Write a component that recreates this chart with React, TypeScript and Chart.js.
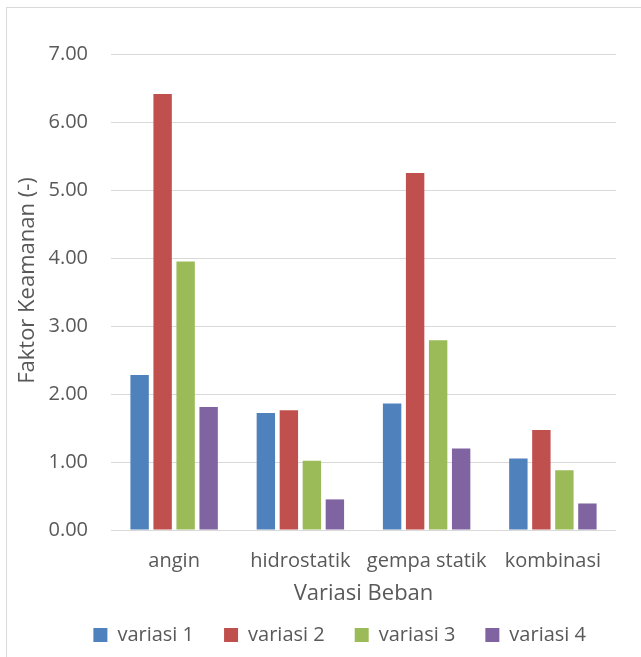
import React, { useEffect, useRef } from "react";
import { Chart, registerables } from "chart.js";

Chart.register(...registerables);

const categories = ["angin", "hidrostatik", "gempa statik", "kombinasi"];
const seriesNames = ["variasi 1", "variasi 2", "variasi 3", "variasi 4"];
const variasi1 = [2.28, 1.72, 1.86, 1.05];
const variasi2 = [6.41, 1.76, 5.25, 1.47];
const variasi3 = [3.95, 1.02, 2.79, 0.88];
const variasi4 = [1.81, 0.45, 1.2, 0.39];
const seriesColors = ["#4f81bd", "#c0504d", "#9bbb59", "#8064a2"];
const yTicksMax = 7;
const yTitle = "    Faktor Keamanan (-)";
const xTitle = "Variasi Beban";

const FONT = "'Open Sans', 'Noto Sans', sans-serif";
const TEXT = "#595959";

export default function App() {
  const ref = useRef<HTMLCanvasElement>(null);

  useEffect(() => {
    if (!ref.current) return;
    const values = [variasi1, variasi2, variasi3, variasi4];
    const chart = new Chart(ref.current, {
      type: "bar",
      data: {
        labels: categories,
        datasets: seriesNames.map((name, i) => ({
          label: name,
          data: values[i],
          backgroundColor: seriesColors[i],
          borderWidth: 0,
          categoryPercentage: 0.729,
          barPercentage: 0.8,
        })),
      },
      options: {
        responsive: false,
        animation: false,
        layout: { padding: { top: 54, right: 25, bottom: 2, left: 0 } },
        plugins: {
          tooltip: { enabled: false },
          legend: {
            position: "bottom",
            align: "end",
            labels: {
              boxWidth: 14,
              boxHeight: 14,
              padding: 30,
              color: TEXT,
              font: { family: FONT, size: 20 },
            },
          },
        },
        scales: {
          x: {
            grid: { display: false, drawTicks: false },
            border: { display: false },
            ticks: { color: TEXT, font: { family: FONT, size: 20 }, padding: 19, maxRotation: 0 },
            title: {
              display: true,
              text: xTitle,
              color: TEXT,
              font: { family: FONT, size: 22 },
              padding: { top: 0, bottom: -12 },
            },
            afterFit: (s: any) => {
              s.height = 65;
            },
          },
          y: {
            min: 0,
            max: yTicksMax,
            grid: { color: "#d9d9d9", lineWidth: 1, drawTicks: false },
            border: { display: false },
            ticks: {
              stepSize: 1,
              color: TEXT,
              font: { family: FONT, size: 20 },
              padding: 23,
              callback: (v: any) => Number(v).toFixed(2),
            },
            title: {
              display: true,
              text: yTitle,
              color: TEXT,
              font: { family: FONT, size: 22 },
              padding: { top: 15, bottom: 0 },
            },
            afterFit: (s: any) => {
              s.width = 111;
            },
          },
        },
      },
    });
    return () => chart.destroy();
  }, []);

  return (
    <div
      style={{
        position: "fixed",
        left: 0,
        top: 0,
        width: 641,
        height: 657,
        overflow: "hidden",
        background: "#fff",
      }}
    >
      <div
        style={{
          position: "absolute",
          left: 6,
          top: 7,
          width: 700,
          height: 700,
          border: "1px solid #d9d9d9",
        }}
      />
      <canvas
        ref={ref}
        width={641}
        height={657}
        style={{ position: "absolute", left: 0, top: 0 }}
      />
    </div>
  );
}
